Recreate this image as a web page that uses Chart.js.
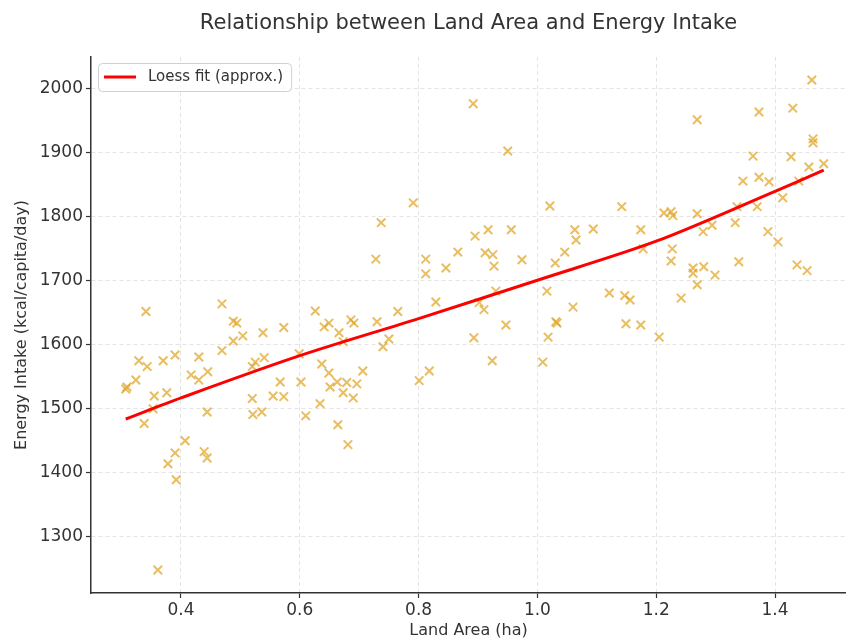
<!DOCTYPE html>
<html>
<head>
<meta charset="utf-8">
<title>Land Area vs Energy Intake</title>
<script src="https://cdn.jsdelivr.net/npm/chart.js@4"></script>
<style>
  html, body { margin: 0; padding: 0; background: #fff; }
  #wrap { width: 846px; height: 640px; }
</style>
</head>
<body>
<div id="wrap"><canvas id="chart" width="846" height="640"></canvas></div>
<script>
// ---------- Data ----------
const landArea = [
  0.307, 0.309, 0.324, 0.329, 0.341, 0.343, 0.338, 0.355, 0.353, 0.370,
  0.378, 0.390, 0.376, 0.390, 0.392, 0.407, 0.361, 0.417, 0.430, 0.430,
  0.445, 0.444, 0.439, 0.444, 0.469, 0.469, 0.488, 0.494, 0.488, 0.504,
  0.538, 0.520, 0.525, 0.540, 0.520, 0.521, 0.536, 0.555, 0.567, 0.573,
  0.573, 0.602, 0.599, 0.610, 0.626, 0.641, 0.649, 0.666, 0.673, 0.686,
  0.691, 0.730, 0.765, 0.750, 0.740, 0.637, 0.649, 0.706, 0.651, 0.663,
  0.679, 0.696, 0.673, 0.690, 0.634, 0.664, 0.681, 0.801, 0.818, 0.829,
  0.791, 0.737, 0.728, 0.812, 0.812, 0.846, 0.866, 0.895, 0.893, 0.892,
  0.950, 1.021, 1.142, 0.917, 0.956, 0.912, 0.925, 0.927, 0.974, 1.030,
  1.046, 1.063, 1.065, 1.094, 1.174, 1.178, 0.930, 0.902, 0.910, 0.947,
  0.924, 1.016, 1.060, 1.031, 1.033, 1.018, 1.009, 1.121, 1.147, 1.156,
  1.149, 1.174, 1.205, 1.462, 1.430, 1.373, 1.269, 1.464, 1.464, 1.363,
  1.427, 1.457, 1.482, 1.373, 1.390, 1.346, 1.440, 1.413, 1.336, 1.370,
  1.213, 1.225, 1.228, 1.269, 1.294, 1.279, 1.333, 1.388, 1.405, 1.227,
  1.225, 1.262, 1.262, 1.280, 1.299, 1.269, 1.242, 1.339, 1.437, 1.454
];
const energyIntake = [
  1531, 1534, 1545, 1575, 1652, 1566, 1477, 1520, 1500, 1575,
  1414, 1584, 1525, 1431, 1389, 1450, 1248, 1553, 1581, 1545,
  1558, 1495, 1433, 1423, 1664, 1591, 1637, 1634, 1606, 1614,
  1619, 1566, 1573, 1580, 1516, 1491, 1495, 1520, 1542, 1627,
  1519, 1542, 1586, 1489, 1653, 1628, 1634, 1619, 1605, 1639,
  1634, 1636, 1652, 1609, 1597, 1570, 1556, 1559, 1534, 1542,
  1541, 1539, 1525, 1517, 1508, 1475, 1444, 1544, 1559, 1667,
  1822, 1791, 1734, 1734, 1711, 1720, 1745, 1770, 1611, 1977,
  1903, 1817, 1816, 1780, 1780, 1744, 1741, 1723, 1733, 1728,
  1745, 1780, 1764, 1781, 1780, 1750, 1684, 1666, 1655, 1631,
  1575, 1684, 1659, 1636, 1634, 1612, 1573, 1681, 1677, 1670,
  1633, 1631, 1612, 2014, 1970, 1964, 1952, 1922, 1916, 1895,
  1894, 1878, 1883, 1862, 1855, 1856, 1856, 1830, 1816, 1816,
  1806, 1808, 1802, 1805, 1787, 1777, 1791, 1777, 1761, 1750,
  1731, 1720, 1712, 1722, 1709, 1694, 1673, 1730, 1725, 1716
];

// loess curve read at a few x positions
const loessX = [0.307, 0.4, 0.6, 0.8, 1.0, 1.2, 1.4, 1.482];
const loessY = [1484, 1517, 1583, 1641, 1701, 1762, 1840, 1873];

const xTicks = [0.4, 0.6, 0.8, 1.0, 1.2, 1.4];
const yTicks = [1300, 1400, 1500, 1600, 1700, 1800, 1900, 2000];

const TITLE = "Relationship between Land Area and Energy Intake";
const X_LABEL = "Land Area (ha)";
const Y_LABEL = "Energy Intake (kcal/capita/day)";
const LEGEND_LABEL = "Loess fit (approx.)";

const FONT = "'DejaVu Sans', 'Liberation Sans', sans-serif";
const TEXT = "#333333";

// ---------- Legend (inside the plot, top left) ----------
const legendBox = {
  id: "legendBox",
  afterDraw(chart) {
    const { ctx, chartArea } = chart;
    const x = chartArea.left + 7, y = chartArea.top + 6;
    ctx.save();
    ctx.font = "15px " + FONT;
    const w = 50 + ctx.measureText(LEGEND_LABEL).width + 8, h = 28;
    ctx.beginPath();
    ctx.roundRect(x + 0.5, y + 0.5, w, h, 4);
    ctx.fillStyle = "rgba(255,255,255,0.8)";
    ctx.fill();
    ctx.strokeStyle = "#d0d0d0";
    ctx.lineWidth = 1;
    ctx.stroke();
    ctx.beginPath();
    ctx.moveTo(x + 6, y + 14);
    ctx.lineTo(x + 38, y + 14);
    ctx.strokeStyle = "#ff0000";
    ctx.lineWidth = 3;
    ctx.stroke();
    ctx.fillStyle = TEXT;
    ctx.textBaseline = "middle";
    ctx.fillText(LEGEND_LABEL, x + 50, y + 14.5);
    ctx.restore();
  }
};

// ---------- Chart ----------
const ctx = document.getElementById("chart").getContext("2d");
new Chart(ctx, {
  type: "scatter",
  data: {
    datasets: [
      {
        type: "line",
        label: LEGEND_LABEL,
        data: loessX.map((x, i) => ({ x, y: loessY[i] })),
        borderColor: "#ff0000",
        borderWidth: 3,
        pointRadius: 0,
        tension: 0.3,
        fill: false,
        order: 0,
      },
      {
        label: "Countries",
        data: landArea.map((x, i) => ({ x, y: energyIntake[i] })),
        pointStyle: "crossRot",
        pointRadius: 6,
        borderWidth: 2,
        borderColor: "rgba(222,163,30,0.7)",
        backgroundColor: "rgba(222,163,30,0.7)",
        order: 1,
      },
    ],
  },
  options: {
    responsive: false,
    animation: false,
    events: [],
    layout: { padding: 0, autoPadding: false },
    plugins: {
      legend: { display: false },
      tooltip: { enabled: false },
      title: {
        display: true,
        text: TITLE,
        fullSize: false,
        color: TEXT,
        font: { family: FONT, size: 21, weight: "normal", lineHeight: 1.2 },
        padding: { top: 11, bottom: 20.8 },
      },
    },
    scales: {
      x: {
        type: "linear",
        min: 0.2485,
        max: 1.5195,
        afterBuildTicks: (s) => { s.ticks = xTicks.map((v) => ({ value: v })); },
        afterFit: (s) => { s.height = 47; },
        ticks: {
          callback: (v) => Number(v).toFixed(1),
          color: TEXT,
          font: { family: FONT, size: 17 },
          padding: 2,
          maxRotation: 0,
        },
        grid: { color: "#e4e4e4", lineWidth: 1, tickColor: "#333", tickLength: 5, tickWidth: 1.2 },
        border: { color: "#333", width: 1.5, dash: [4, 3] },
        title: {
          display: true,
          text: X_LABEL,
          color: TEXT,
          font: { family: FONT, size: 16 },
          padding: { top: 0, bottom: 0 },
        },
      },
      y: {
        type: "linear",
        min: 1212,
        max: 2050,
        afterBuildTicks: (s) => { s.ticks = yTicks.map((v) => ({ value: v })); },
        afterFit: (s) => { s.width = 91; },
        ticks: {
          callback: (v) => String(v),
          color: TEXT,
          font: { family: FONT, size: 17 },
          padding: 3,
        },
        grid: { color: "#e4e4e4", lineWidth: 1, tickColor: "#333", tickLength: 5, tickWidth: 1.2 },
        border: { color: "#333", width: 1.5, dash: [4, 3] },
        title: {
          display: true,
          text: Y_LABEL,
          color: TEXT,
          font: { family: FONT, size: 16 },
          padding: { top: 12, bottom: 0 },
        },
      },
    },
  },
  plugins: [legendBox],
});
</script>
</body>
</html>
